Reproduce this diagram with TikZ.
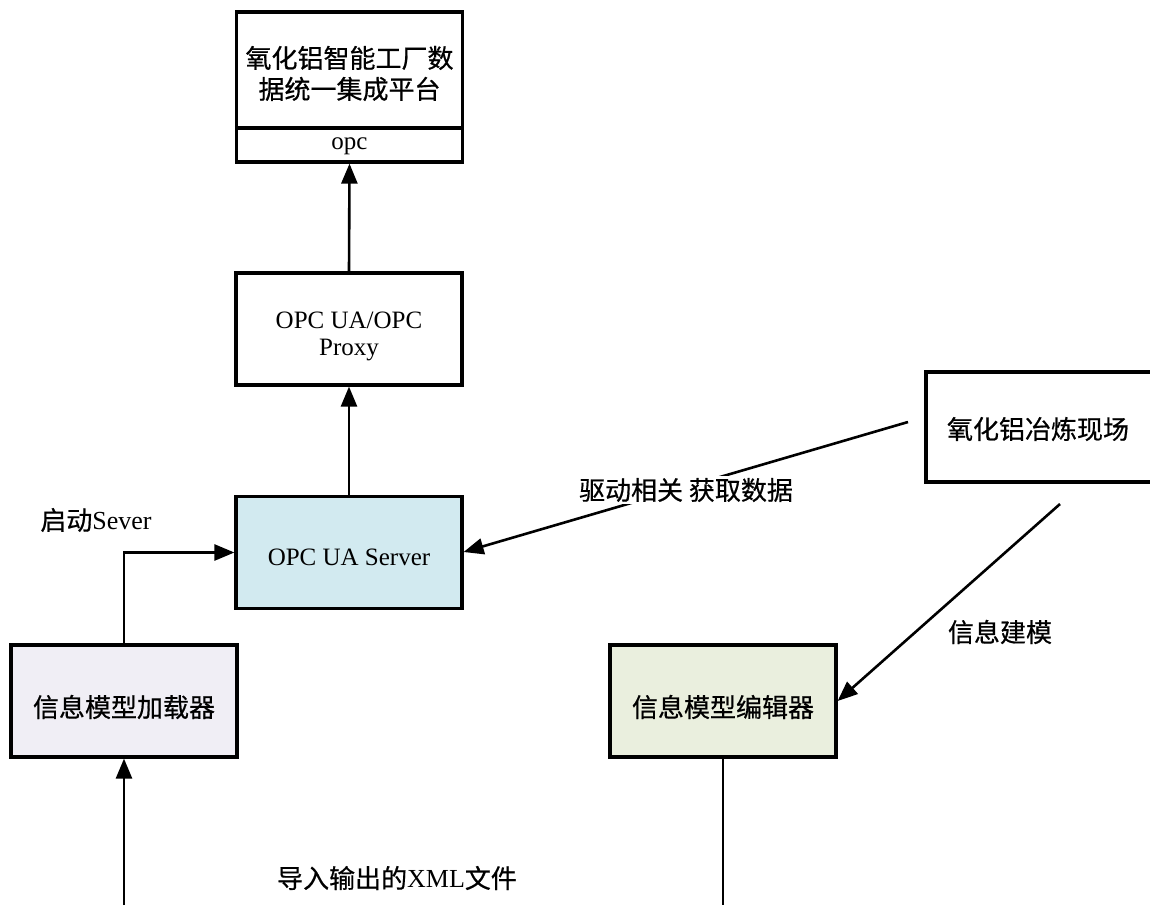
\documentclass[tikz,border=0pt]{standalone}
\usepackage{fontspec}
\setmainfont{Liberation Serif}
\newfontfamily\cjk[FakeBold=0.6]{Noto Sans CJK SC}
\usetikzlibrary{arrows.meta}
\definecolor{srvblue}{RGB}{210,234,240}
\definecolor{ldrgray}{RGB}{240,238,245}
\definecolor{edtgreen}{RGB}{234,239,222}
\begin{document}
\begin{tikzpicture}[x=1pt,y=-1pt,
  box/.style={draw, line width=3.2pt, minimum width=226pt, minimum height=112pt, inner sep=0pt},
  conn/.style={line width=2.6pt},
  arr/.style={conn, -{Triangle[length=20pt,width=16pt]}},
  cjktxt/.style={font=\cjk\fontsize{26}{31}\selectfont, inner sep=0pt, align=center},
  lattxt/.style={font=\fontsize{25}{27}\selectfont, inner sep=0pt, align=center},
  lbl/.style={font=\fontsize{26}{30}\selectfont, inner sep=0pt}]
\fill[white] (0,0) rectangle (1150,905);
\useasboundingbox (0,0) rectangle (1150,905);
\clip (0,0) rectangle (1150,905);

% boxes
\node[box, minimum height=150pt] (plat) at (349.5,87) {};
\draw[line width=3.2pt] (plat.west |- 0,128) -- (plat.east |- 0,128);
\node[cjktxt] (platT) at (349.5,73.5) {氧化铝智能工厂数\\据统一集成平台};
\node[lattxt] (platO) at (349.5,146) {opc};

\node[box] (proxy) at (349,329) {};
\node[lattxt] (proxyT) at (349,336) {OPC UA/OPC\\Proxy};

\node[box, fill=srvblue] (srv) at (349,552.5) {};
\node[lattxt] (srvT) at (349,557) {OPC UA Server};

\node[box, minimum height=110pt] (field) at (1039,427) {};
\node[cjktxt] (fieldT) at (1038,429) {氧化铝冶炼现场};

\node[box, fill=ldrgray] (ldr) at (124,701) {};
\node[cjktxt] (ldrT) at (124,707) {信息模型加载器};

\node[box, fill=edtgreen] (edt) at (723,701) {};
\node[cjktxt] (edtT) at (723,707) {信息模型编辑器};

% connectors
\draw[arr] (srv.north) -- (proxy.south);
\draw[arr] (proxy.north) -- (plat.south);
\draw[arr] (ldr.north) |- (srv.west);

\coordinate (ldrIn) at (124,905);
\draw[arr] (ldrIn) -- (ldr.south);
\coordinate (edtOut) at (723,905);
\draw[conn] (edt.south) -- (edtOut);

\coordinate (fieldOut) at (908,422);
\coordinate (srvIn) at (srv.east |- 0,552);
\draw[arr] (fieldOut) -- (srvIn);
\node[lbl, fill=white, inner sep=2pt] (drvL) at (686,490) {{\cjk 驱动相关 获取数据}};

\coordinate (fieldOut2) at (1060,504);
\coordinate (edtIn) at (edt.east |- 0,701);
\draw[arr] (fieldOut2) -- (edtIn);

% labels
\node[lbl] (startL) at (96,520) {{\cjk 启动}Sever};
\node[lbl] (modelL) at (1000,632) {{\cjk 信息建模}};
\node[lbl] (xmlL) at (397,878) {{\cjk 导入输出的}XML{\cjk 文件}};
\end{tikzpicture}
\end{document}
